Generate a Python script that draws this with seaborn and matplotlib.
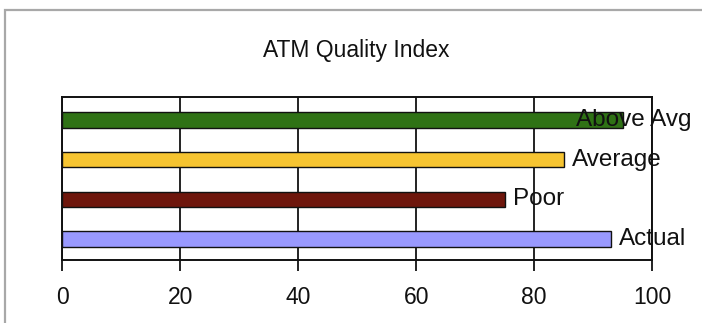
import matplotlib
matplotlib.use("Agg")
import matplotlib.pyplot as plt
import matplotlib.patches as mpatches
import pandas as pd
import seaborn as sns

# Quality bands and their index values (top to bottom)
categories = ["Above Avg", "Average", "Poor", "Actual"]
values = [95, 85, 75, 93]
colors = ["#2f7215", "#f6c431", "#6e160c", "#9999ff"]
x_ticks = [0, 20, 40, 60, 80, 100]
title = "ATM Quality Index"

df = pd.DataFrame({"category": categories, "value": values})

sns.set_theme(style="white")
plt.rcParams["font.family"] = ["Liberation Sans", "DejaVu Sans"]

fig = plt.figure(figsize=(7.02, 3.23), dpi=100)
ax = fig.add_axes([0.089, 0.195, 0.8398, 0.5047])

sns.barplot(data=df, y="category", x="value", hue="category",
            palette=colors, saturation=1, orient="h", width=0.38,
            edgecolor="#111111", linewidth=1.0, legend=False, ax=ax,
            zorder=3)

ax.set_xlim(0, 100)
ax.set_ylim(3.53, -0.58)
ax.set_xticks(x_ticks)
ax.set_xticklabels([str(t) for t in x_ticks], fontsize=16.5, color="#111111")
ax.set_yticks([])
ax.set_xlabel("")
ax.set_ylabel("")
ax.tick_params(axis="x", direction="out", length=8, width=1.3,
               color="#111111", pad=11, bottom=True)
ax.xaxis.grid(True, color="#222222", linewidth=1.4, zorder=1)
ax.set_axisbelow(True)
for side in ["left", "right", "top", "bottom"]:
    ax.spines[side].set_visible(True)
    ax.spines[side].set_color("#111111")
    ax.spines[side].set_linewidth(1.4)

fig.text(0.508, 0.845, title, ha="center", va="center",
         fontsize=16.5, color="#111111")

# Category labels just past each bar end
label_pad = 6
labels = []
for i, (cat, val) in enumerate(zip(categories, values)):
    t = ax.annotate(cat, xy=(val, i), xytext=(label_pad, 0),
                    textcoords="offset points", ha="left", va="center",
                    fontsize=17.5, color="#111111", zorder=5,
                    annotation_clip=False)
    labels.append(t)

# Keep labels inside the chart area frame
fig.canvas.draw()
renderer = fig.canvas.get_renderer()
limit = fig.bbox.width - 11
for t in labels:
    bb = t.get_window_extent(renderer)
    if bb.x1 > limit:
        shift = (bb.x1 - limit) * 72.0 / fig.dpi
        t.set_position((label_pad - shift, 0))

# Outer chart-area border
frame = mpatches.Rectangle((4.5 / 702, -0.1), 1.2, 1.1 - 10.5 / 323,
                           transform=fig.transFigure, fill=False,
                           edgecolor="#a8a8a8", linewidth=1.6,
                           clip_on=False)
fig.patches.append(frame)

fig.savefig("out.png", dpi=100)
